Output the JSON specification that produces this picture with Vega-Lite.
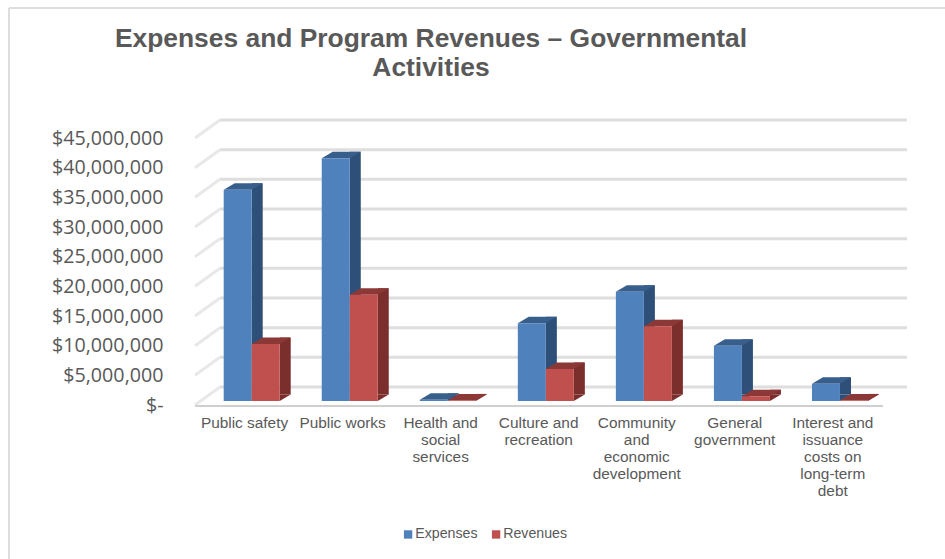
{
  "$schema": "https://vega.github.io/schema/vega-lite/v6.json",
  "width": 782,
  "height": 413,
  "padding": {"left": 163, "top": 0, "right": 0, "bottom": 146},
  "autosize": {"type": "none"},
  "background": "white",
  "config": {"view": {"stroke": null}, "font": "Liberation Sans"},
  "title": {
    "text": ["Expenses and Program Revenues – Governmental", "Activities"],
    "anchor": "middle",
    "frame": "group",
    "orient": "top",
    "offset": -94,
    "dx": -123,
    "baseline": "middle",
    "font": "Liberation Sans",
    "fontSize": 26.4,
    "fontWeight": "bold",
    "color": "#595959",
    "lineHeight": 29
  },
  "datasets": {
    "activities": [
      {"activity": "Public safety", "series": "Expenses", "amount": 35600000},
      {"activity": "Public safety", "series": "Revenues", "amount": 9600000},
      {"activity": "Public works", "series": "Expenses", "amount": 40900000},
      {"activity": "Public works", "series": "Revenues", "amount": 17900000},
      {"activity": "Health and social services", "series": "Expenses", "amount": 200000},
      {"activity": "Health and social services", "series": "Revenues", "amount": 100000},
      {"activity": "Culture and recreation", "series": "Expenses", "amount": 13100000},
      {"activity": "Culture and recreation", "series": "Revenues", "amount": 5400000},
      {"activity": "Community and economic development", "series": "Expenses", "amount": 18400000},
      {"activity": "Community and economic development", "series": "Revenues", "amount": 12600000},
      {"activity": "General government", "series": "Expenses", "amount": 9300000},
      {"activity": "General government", "series": "Revenues", "amount": 800000},
      {"activity": "Interest and issuance costs on long-term debt", "series": "Expenses", "amount": 2900000},
      {"activity": "Interest and issuance costs on long-term debt", "series": "Revenues", "amount": 100000}
    ],
    "gridValues": [
      {"amount": 0}, {"amount": 5000000}, {"amount": 10000000}, {"amount": 15000000}, {"amount": 20000000},
      {"amount": 25000000}, {"amount": 30000000}, {"amount": 35000000}, {"amount": 40000000}, {"amount": 45000000}
    ]
  },
  "data": {"name": "activities"},
  "encoding": {
    "x": {
      "field": "activity",
      "type": "nominal",
      "title": null,
      "scale": {
        "domain": [
          "Public safety", "Public works", "Health and social services", "Culture and recreation",
          "Community and economic development", "General government",
          "Interest and issuance costs on long-term debt"
        ],
        "range": [39.7, 726],
        "paddingInner": 0,
        "paddingOuter": 0
      },
      "axis": {
        "domain": false,
        "ticks": false,
        "grid": false,
        "labelPadding": 2,
        "labelAngle": 0,
        "labelOffset": -7.2,
        "labelFont": "Liberation Sans",
        "labelFontSize": 15.4,
        "labelColor": "#595959",
        "labelLineHeight": 17,
        "labelOverlap": false,
        "labelBound": false,
        "labelFlush": false,
        "labelLimit": 0,
        "labelExpr": "({'Health and social services':['Health and','social','services'],'Culture and recreation':['Culture and','recreation'],'Community and economic development':['Community','and','economic','development'],'General government':['General','government'],'Interest and issuance costs on long-term debt':['Interest and','issuance','costs on','long-term','debt']})[datum.label] || datum.label"
      }
    },
    "xOffset": {
      "field": "series",
      "type": "nominal",
      "scale": {"domain": ["Expenses", "Revenues"], "range": [21, 77], "paddingInner": 0, "paddingOuter": 0}
    },
    "y": {
      "field": "amount",
      "type": "quantitative",
      "title": null,
      "scale": {"domain": [0, 45000000], "range": [401, 134], "nice": false},
      "axis": {
        "domain": false,
        "ticks": false,
        "grid": false,
        "values": [0, 5000000, 10000000, 15000000, 20000000, 25000000, 30000000, 35000000, 40000000, 45000000],
        "labelPadding": 0,
        "labelOffset": 4,
        "labelFont": "Open Sans",
        "labelFontSize": 19.7,
        "labelColor": "#595959",
        "labelOverlap": false,
        "labelBound": false,
        "labelFlush": false,
        "labelExpr": "datum.value === 0 ? '$-' : format(datum.value, '$,.0f')"
      }
    }
  },
  "layer": [
    {
      "description": "Outer chart frame, top edge",
      "mark": {"type": "rule", "color": "#DDDDDD", "strokeWidth": 2},
      "data": {"values": [{}]},
      "encoding": {"x": {"value": -154}, "x2": {"value": 782}, "y": {"value": 8}, "xOffset": null}
    },
    {
      "description": "Outer chart frame, left edge",
      "mark": {"type": "rule", "color": "#DDDDDD", "strokeWidth": 2},
      "data": {"values": [{}]},
      "encoding": {"x": {"value": -154}, "y": {"value": 8}, "y2": {"value": 559}, "xOffset": null}
    },
    {
      "description": "Gridlines on the back wall",
      "data": {"name": "gridValues"},
      "mark": {"type": "rule", "color": "#DEDEDE", "strokeWidth": 3, "xOffset": 17.3, "x2Offset": 67, "yOffset": -14},
      "encoding": {
        "x": {"datum": "Public safety", "bandPosition": 0, "title": null},
        "x2": {"datum": "Interest and issuance costs on long-term debt"},
        "xOffset": null
      }
    },
    {
      "description": "Gridlines running along the side wall",
      "data": {"name": "gridValues"},
      "mark": {
        "type": "point",
        "shape": "M0 0L25 -18",
        "size": 4,
        "filled": false,
        "opacity": 1,
        "stroke": "#E8E8E8",
        "strokeWidth": 3,
        "xOffset": -7.7,
        "yOffset": 4
      },
      "encoding": {
        "x": {"datum": "Public safety", "bandPosition": 0, "title": null},
        "xOffset": null
      }
    },
    {
      "description": "Front edge of the floor",
      "data": {"values": [{"amount": 0}]},
      "mark": {"type": "rule", "color": "#CFCFCF", "strokeWidth": 2, "xOffset": -7.7, "x2Offset": 43, "yOffset": 5},
      "encoding": {
        "x": {"datum": "Public safety", "bandPosition": 0, "title": null},
        "x2": {"datum": "Interest and issuance costs on long-term debt"},
        "xOffset": null
      }
    },
    {
      "description": "Side faces of the expense bars",
      "transform": [{"filter": "datum.series === 'Expenses'"}],
      "mark": {"type": "rule", "color": "#2E5078", "strokeWidth": 11, "xOffset": 5.5, "yOffset": -6.5, "y2Offset": -6.5},
      "encoding": {"xOffset": null, "y2": {"datum": 0}}
    },
    {
      "description": "Side faces of the revenue bars",
      "transform": [{"filter": "datum.series === 'Revenues'"}],
      "mark": {"type": "rule", "color": "#7A2F2D", "strokeWidth": 11, "xOffset": 33.5, "yOffset": -6.5, "y2Offset": -6.5},
      "encoding": {"xOffset": null, "y2": {"datum": 0}}
    },
    {
      "description": "Lower corner of the side faces at the floor",
      "mark": {"type": "point", "shape": "M14 0L14 -6.5L25 -6.5Z", "size": 4, "filled": true, "opacity": 1, "strokeWidth": 0},
      "encoding": {
        "y": {"datum": 0, "type": "quantitative", "title": null},
        "color": {"field": "series", "type": "nominal", "legend": null,
          "scale": {"domain": ["Expenses", "Revenues"], "range": ["#2E5078", "#7A2F2D"]}}
      }
    },
    {
      "description": "Top faces",
      "mark": {"type": "point", "shape": "M-14 0L14 0L25 -6.5L-3 -6.5Z", "size": 4, "filled": true, "opacity": 1, "strokeWidth": 0},
      "encoding": {
        "color": {"field": "series", "type": "nominal", "legend": null,
          "scale": {"domain": ["Expenses", "Revenues"], "range": ["#385E8C", "#8C3836"]}}
      }
    },
    {
      "description": "Front faces and legend",
      "mark": {"type": "bar"},
      "encoding": {
        "color": {
          "field": "series",
          "type": "nominal",
          "scale": {"domain": ["Expenses", "Revenues"], "range": ["#4F81BD", "#C0504D"]},
          "legend": {
            "title": null,
            "orient": "none",
            "direction": "horizontal",
            "legendX": 238,
            "legendY": 527,
            "symbolType": "square",
            "symbolSize": 70,
            "symbolStrokeWidth": 0,
            "labelFont": "Liberation Sans",
            "labelFontSize": 14.2,
            "labelColor": "#595959",
            "labelOffset": 0,
            "columnPadding": 11
          }
        }
      }
    }
  ],
  "resolve": {"scale": {"color": "independent"}}
}
